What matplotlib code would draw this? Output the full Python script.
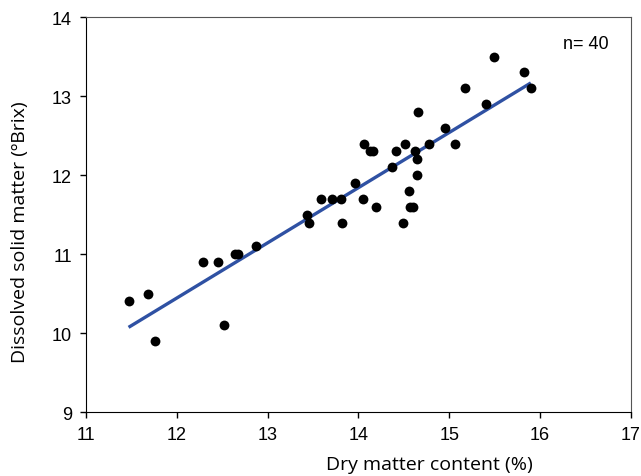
import numpy as np
import matplotlib
matplotlib.use("Agg")
import matplotlib.pyplot as plt

# dry matter (%) vs dissolved solids (Brix)
dry_matter = [11.47, 11.68, 11.76, 12.29, 12.45, 12.52, 12.64, 12.67, 12.87, 13.43,
              13.46, 13.59, 13.71, 13.81, 13.82, 13.96, 14.05, 14.06, 14.13, 14.16,
              14.19, 14.37, 14.42, 14.49, 14.51, 14.56, 14.57, 14.60, 14.62, 14.65,
              14.65, 14.66, 14.78, 14.96, 15.06, 15.17, 15.41, 15.49, 15.83, 15.90]
brix = [10.4, 10.5, 9.9, 10.9, 10.9, 10.1, 11.0, 11.0, 11.1, 11.5,
        11.4, 11.7, 11.7, 11.7, 11.4, 11.9, 11.7, 12.4, 12.3, 12.3,
        11.6, 12.1, 12.3, 11.4, 12.4, 11.8, 11.6, 11.6, 12.3, 12.2,
        12.0, 12.8, 12.4, 12.6, 12.4, 13.1, 12.9, 13.5, 13.3, 13.1]

x = np.array(dry_matter)
y = np.array(brix)
slope, intercept = np.polyfit(x, y, 1)
xfit = np.array([x.min(), x.max()])

fig = plt.figure(figsize=(6.41, 4.77), dpi=100)
ax = fig.add_axes([0.134, 0.134, 0.850, 0.828])

ax.scatter(x, y, s=50, color="black", zorder=3, linewidths=0)
ax.plot(xfit, slope * xfit + intercept, color="#2f51a3", lw=2.4, zorder=2,
        solid_capstyle="butt")

ax.set_xlim(11, 17)
ax.set_ylim(9, 14)
ax.set_xticks(range(11, 18))
ax.set_yticks(range(9, 15))
ax.tick_params(direction="out", length=4, width=1, labelsize=13, pad=6)
for lbl in ax.get_xticklabels() + ax.get_yticklabels():
    lbl.set_fontfamily("Liberation Sans")
for side in ["top", "right"]:
    ax.spines[side].set_color("#555555")
ax.spines["left"].set_color("black")
ax.spines["bottom"].set_color("black")

ax.set_xlabel("Dry matter content (%)", fontsize=14, family="Open Sans")
ax.xaxis.set_label_coords(0.631, -0.108)
ax.set_ylabel("Dissolved solid matter (ºBrix)", fontsize=14, family="Open Sans")
ax.yaxis.set_label_coords(-0.105, 0.458)

ax.text(0.918, 0.933, "n= 40", transform=ax.transAxes, fontsize=13,
        family="Liberation Sans", ha="center", va="center")

fig.savefig("out.png", dpi=100)
